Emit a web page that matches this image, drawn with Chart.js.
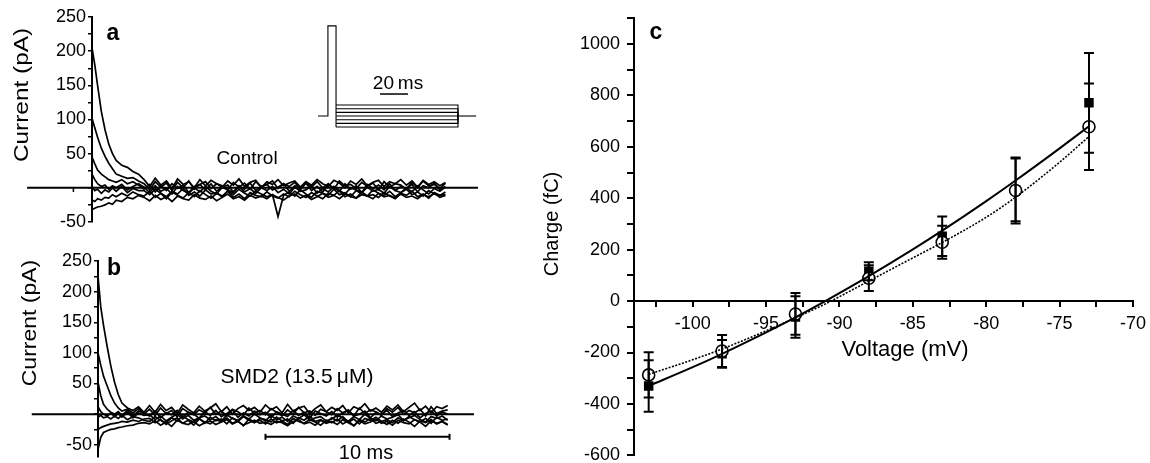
<!DOCTYPE html>
<html>
<head>
<meta charset="utf-8">
<script src="https://cdn.jsdelivr.net/npm/chart.js@4.4.1/dist/chart.umd.min.js"></script>
<style>
  html, body { margin: 0; padding: 0; background: #fff; }
  #page { position: relative; width: 1150px; height: 463px; overflow: hidden; }
  .panel { position: absolute; }
</style>
</head>
<body>
<div id="page">
  <div class="panel" style="left:0;top:0;width:480px;height:232px"><canvas id="chartA"></canvas></div>
  <div class="panel" style="left:0;top:232px;width:480px;height:231px"><canvas id="chartB"></canvas></div>
  <div class="panel" style="left:310px;top:15px;width:175px;height:120px"><canvas id="chartInset"></canvas></div>
  <div class="panel" style="left:540px;top:0;width:610px;height:463px"><canvas id="chartC"></canvas></div>
</div>
<script>
// ---- data: current traces (ms, pA) ----
const timeMs = [0, 0.15, 0.3, 0.5, 0.7, 0.9, 1.1, 1.3, 1.6, 1.9, 2.2, 2.5,
  2.8, 3.1, 3.4, 3.7, 4.0, 4.3, 4.6, 4.9, 5.2, 5.5, 5.8,
  6.1, 6.4, 6.7, 7.0, 7.3, 7.6, 7.9, 8.2, 8.5, 8.8, 9.1,
  9.4, 9.7, 10.0, 10.3, 10.6, 10.9, 11.2, 11.5, 11.8, 12.1, 12.4,
  12.7, 13.0, 13.3, 13.6, 13.9, 14.2, 14.5, 14.8, 15.1, 15.4, 15.7,
  16.0, 16.3, 16.6, 16.9, 17.2, 17.5, 17.8, 18.1, 18.4, 18.7, 19.0];

const ctrlTrace1 = [205, 180, 150, 112, 85, 64, 50, 40, 33, 30, 24, 20,
  12, 2, 14, 4, 10, -1, 13, 5, 9, 0, 12,
  3, 11, 6, 1, 10, 4, 13, 2, 8, 11, 0,
  9, 5, 12, 3, 7, 10, 1, 9, 4, 12, 6,
  2, 11, 7, 0, 10, 5, 13, 3, 8, 11, 2,
  9, 6, 12, 4, 10, 1, 11, 5, 9, 3, 8];
const ctrlTrace2 = [102, 88, 74, 58, 46, 36, 28, 20, 17, 14, 15, 10,
  6, -3, 9, 1, 7, -4, 8, 0, 10, -2, 5,
  9, -1, 6, 3, -3, 8, 1, 7, -2, 9, 2,
  5, 10, -1, 6, 2, 8, -3, 7, 1, 9, 0,
  6, -2, 10, 3, 5, -1, 8, 2, 7, -3, 9,
  1, 6, 4, -2, 8, 0, 10, 3, 5, -1, 7];
const ctrlTrace3 = [45, 35, 26, 20, 16, 12, 10, 8, 12, 6, 9, 4,
  -2, 5, -6, 3, -4, 6, -1, 4, -7, 2, 5,
  -3, 6, -5, 1, 4, -6, 3, -2, 7, -4, 2,
  5, -3, 1, 6, -5, 3, -1, 7, -4, 2, -6,
  4, 0, -5, 6, -2, 3, -7, 5, -1, 4, -3,
  6, -4, 2, -1, 5, -6, 3, 0, 7, -3, 2];
const ctrlTrace4 = [20, 12, 6, 2, 4, -2, 3, 0, 5, -3, 2, 6,
  1, -7, 3, -5, -1, -9, 2, -4, -8, 0, -6,
  2, -5, -9, 1, -3, -7, 3, -6, -1, -8, 0,
  -4, 2, -7, -2, -9, 1, -5, -3, 3, -8, -1,
  -6, 2, -4, -9, 0, -3, -7, 1, -5, -2, -8,
  2, -4, -7, 0, -6, 3, -3, -9, -1, -5, 1];
const ctrlTrace5 = [2, -4, -2, -8, -3, -6, 0, -5, 2, -7, -1, -4,
  -4, -10, -2, -8, -13, -5, -9, -1, -11, -6, -12,
  -3, -9, -7, -14, -4, -10, -2, -8, -12, -5, -9,
  -13, -10, -42, -11, -6, -12, -3, -9, -14, -5, -8,
  -11, -2, -10, -7, -13, -4, -9, -12, -3, -8, -11,
  -5, -13, -7, -2, -10, -6, -12, -4, -9, -11, -6];
const ctrlTrace6 = [-18, -20, -16, -18, -14, -15, -10, -13, -8, -12, -6, -10,
  -12, -5, -14, -8, -16, -6, -11, -15, -7, -13, -4,
  -10, -15, -8, -12, -5, -14, -9, -16, -7, -11, -13,
  -6, -12, -15, -9, -13, -5, -10, -14, -7, -12, -16,
  -8, -11, -4, -13, -9, -15, -6, -12, -10, -14, -7,
  -12, -16, -8, -11, -5, -13, -9, -15, -7, -11, -10];
const ctrlTrace7 = [-32, -30, -28, -27, -25, -22, -24, -18, -20, -14, -16, -11,
  -14, -19, -11, -17, -13, -20, -12, -16, -18, -10, -15,
  -17, -12, -19, -14, -9, -16, -13, -18, -11, -15, -12,
  -16, -10, -14, -18, -12, -9, -15, -11, -17, -13, -8,
  -14, -11, -16, -9, -13, -15, -10, -12, -16, -8, -13,
  -11, -15, -9, -14, -12, -16, -10, -13, -8, -14, -11];

const smdTrace1 = [225, 175, 145, 110, 78, 52, 32, 18, 10, 6, 12, 3,
  14, 3, 16, 6, 11, 1, 15, 8, 2, 13, 5,
  10, 17, 4, 12, 0, 9, 14, 6, 11, 3, 15,
  7, 12, 2, 16, 5, 10, 13, 1, 9, 15, 4,
  11, 6, 14, 2, 12, 8, 17, 5, 10, 3, 13,
  7, 15, 4, 11, 18, 6, 13, 2, 12, 9, 14];
const smdTrace2 = [100, 80, 62, 46, 30, 18, 10, 5, 8, 2, 9, 0,
  8, -2, 10, 1, 6, -4, 9, 3, -1, 7, 2,
  11, 0, 5, -3, 8, 4, -2, 10, 1, 6, -1,
  9, 3, -3, 7, 0, 11, 2, 5, -2, 8, 4,
  -1, 9, 2, 6, -3, 10, 1, 7, 4, -2, 9,
  3, 11, 0, 6, 2, 8, -3, 12, 1, 5, 7];
const smdTrace3 = [52, 30, 16, 8, 3, 0, 4, -2, 6, -3, 5, 1,
  -3, 5, -6, 2, -1, 6, -5, 3, 0, -7, 4,
  -2, 6, -4, 1, 7, -5, 2, -3, 5, -1, 3,
  -6, 4, 0, -4, 6, -2, 3, -7, 5, 1, -3,
  4, -5, 2, 7, -3, 0, 5, -6, 3, -1, 6,
  -4, 2, 6, -2, 4, -6, 1, 5, -3, 3, 0];
const smdTrace4 = [12, 4, 0, -3, 2, -4, 1, -5, 3, -6, 2, -2,
  -1, -9, -3, -11, -5, 0, -8, -2, -10, -6, -3,
  -9, -4, -12, -1, -7, -10, -3, -8, 0, -6, -11,
  -2, -9, -5, -12, -3, -7, -1, -10, -6, -4, -11,
  -8, -2, -6, -12, -4, -9, 0, -7, -11, -3, -8,
  -5, -1, -10, -6, -2, -9, -13, -4, -7, -3, -10];
const smdTrace5 = [-5, -2, -6, -4, -8, -3, -7, -2, -9, -4, -6, -10,
  -12, -4, -10, -14, -6, -11, -3, -9, -13, -7, -15,
  -5, -11, -8, -16, -6, -12, -4, -10, -14, -7, -9,
  -13, -5, -11, -8, -15, -6, -10, -3, -12, -9, -14,
  -6, -11, -4, -13, -8, -16, -7, -10, -5, -12, -9,
  -14, -6, -11, -4, -9, -13, -7, -15, -5, -10, -8];
const smdTrace6 = [-25, -22, -20, -18, -16, -15, -14, -12, -13, -10, -12, -8,
  -7, -14, -9, -17, -11, -6, -15, -10, -18, -8, -13,
  -16, -9, -12, -6, -15, -11, -19, -8, -13, -10, -16,
  -8, -14, -11, -17, -7, -12, -15, -9, -13, -18, -10,
  -14, -8, -16, -11, -19, -9, -13, -7, -15, -12, -17,
  -10, -15, -8, -13, -20, -11, -14, -9, -16, -12, -18];
const smdTrace7 = [-58, -38, -30, -27, -25, -24, -22, -21, -19, -18, -15, -14,
  -16, -11, -18, -13, -20, -10, -15, -17, -12, -19, -14,
  -11, -17, -13, -9, -16, -12, -18, -14, -10, -15, -13,
  -17, -11, -14, -19, -12, -9, -16, -13, -18, -10, -15,
  -12, -17, -9, -14, -19, -11, -16, -13, -8, -15, -12,
  -18, -10, -14, -16, -9, -13, -20, -11, -15, -12, -17];

const currentTicks = [-50, -25, 0, 25, 50, 75, 100, 125, 150, 175, 200, 225, 250];
const ctrlBaselineMs = [-3.49, 20.75];
const ctrlTimeTicks = [-1];
const smdBaselineMs = [-3.6, 20.43];
const scaleBarMs = [9.1, 19.1];
const scaleBarPa = -37;

// ---- data: voltage protocol inset (ms, mV) ----
const protoTimes = [0, 7.1, 12.9, 100, 113];
const protoHoldMv = -88;
const protoPrepulseMv = 35;
const protoStepsMv = [-103, -98, -93, -88, -83, -78, -73];
const insetBarMs = [44.3, 64.3];
const insetBarMv = -58;

// ---- data: charge vs voltage ----
const voltages = [-103, -98, -93, -88, -83, -78, -73];
const chargeSquares = [-330, -205, -62, 116, 252, 432, 771];
const semSquares = [100, 54, 81, 35, 77, 122, 194];
const chargeCircles = [-287, -194, -50, 89, 229, 430, 678];
const semCircles = [88, 62, 81, 50, 64, 128, 168];
const fitVoltages = [-103, -100, -98, -96, -93, -91, -88, -85, -83, -80, -78, -75, -73];
const fitSolid = [-330, -257, -205, -150, -63, -1, 97, 201, 274, 389, 469, 594, 680];
const fitDotted = [-285, -228, -186, -140, -65, -12, 78, 168, 228, 326, 404, 540, 640];
const voltageTicks = [-102.5, -100, -97.5, -95, -92.5, -90, -87.5, -85, -82.5, -80, -77.5, -75, -72.5, -70];
const chargeTicks = [-600, -500, -400, -300, -200, -100, 0, 100, 200, 300, 400, 500, 600, 700, 800, 900, 1000, 1100];

// ---- helpers ----
Chart.defaults.font.family = '"Liberation Sans", Arial, sans-serif';
Chart.defaults.color = '#000';
const FONT = '"Liberation Sans", Arial, sans-serif';

const textPlugin = {
  id: 'panelText',
  afterDraw(chart, args, opts) {
    const ctx = chart.ctx;
    (opts.items || []).forEach(t => {
      ctx.save();
      ctx.translate(t.x - opts.left, t.y - opts.top);
      if (t.rot) ctx.rotate(t.rot);
      if (t.sx) ctx.scale(t.sx, 1);
      ctx.font = (t.bold ? 'bold ' : '') + t.size + 'px ' + FONT;
      ctx.fillStyle = '#000';
      ctx.textAlign = 'center';
      ctx.textBaseline = 'middle';
      ctx.fillText(t.text, 0, 0);
      ctx.restore();
    });
  }
};

const noPad = s => { s.paddingTop = 0; s.paddingBottom = 0; s.paddingLeft = 0; s.paddingRight = 0; };
const fixWidth = w => s => { noPad(s); s.width = w; };
const setTicks = list => s => { s.ticks = list.map(v => ({value: v})); };

function traceSets(traces) {
  return traces.map(vals => ({
    data: vals.map((v, i) => ({x: timeMs[i], y: v})),
    borderColor: '#000', borderWidth: 1.7, pointRadius: 0, tension: 0, fill: false
  }));
}

function baselineSets(baseline, ticks) {
  const sets = [{
    data: baseline.map(t => ({x: t, y: 0})),
    borderColor: '#000', borderWidth: 2, pointRadius: 0, clip: false
  }];
  ticks.forEach(t => sets.push({
    data: [{x: t, y: 0}, {x: t, y: -6}],
    borderColor: '#000', borderWidth: 1.5, pointRadius: 0, clip: false
  }));
  return sets;
}

function tracePanel(id, traces, opt) {
  const datasets = traceSets(traces).concat(baselineSets(opt.baseline, opt.xTicks), opt.extra || []);
  return new Chart(document.getElementById(id), {
    type: 'line',
    data: { datasets: datasets },
    plugins: [textPlugin],
    options: {
      responsive: true, maintainAspectRatio: false, animation: false, devicePixelRatio: 1,
      layout: { padding: opt.padding },
      plugins: {
        legend: { display: false }, tooltip: { enabled: false },
        panelText: { left: opt.left, top: opt.top, items: opt.texts }
      },
      scales: {
        x: { type: 'linear', min: 0, max: opt.xMax, display: false },
        y: {
          type: 'linear', min: opt.yMin, max: 250, position: 'left',
          afterBuildTicks: setTicks(currentTicks), afterFit: fixWidth(70),
          ticks: { autoSkip: false, padding: 2, font: { size: 18 },
                   callback: v => (v !== 0 && v % 50 === 0 ? String(v) : '') },
          grid: { drawOnChartArea: false, tickLength: 4, color: '#000', lineWidth: 1.5 },
          border: { color: '#000', width: 2 }
        }
      }
    }
  });
}

// panel a: control
tracePanel('chartA',
  [ctrlTrace1, ctrlTrace2, ctrlTrace3, ctrlTrace4, ctrlTrace5, ctrlTrace6, ctrlTrace7],
  {
    left: 0, top: 0, padding: {left: 22, right: 2, top: 17, bottom: 10},
    xMax: 20.75, yMin: -50, baseline: ctrlBaselineMs, xTicks: ctrlTimeTicks,
    texts: [
      {text: 'Current (pA)', x: 22, y: 95, size: 20, rot: -Math.PI / 2, sx: 1.22},
      {text: 'a', x: 113, y: 34, size: 23, bold: true},
      {text: 'Control', x: 247, y: 159, size: 19}
    ]
  });

// panel b: SMD2
tracePanel('chartB',
  [smdTrace1, smdTrace2, smdTrace3, smdTrace4, smdTrace5, smdTrace6, smdTrace7],
  {
    left: 0, top: 232, padding: {left: 28, right: 2, top: 29, bottom: 3.6},
    xMax: 20.43, yMin: -70, baseline: smdBaselineMs, xTicks: [],
    extra: [{
      data: scaleBarMs.map(t => ({x: t, y: scaleBarPa})),
      borderColor: '#000', borderWidth: 2, pointStyle: 'line', pointRotation: 90,
      pointRadius: 3, pointBorderWidth: 2, pointBorderColor: '#000'
    }],
    texts: [
      {text: 'Current (pA)', x: 30, y: 323, size: 20, rot: -Math.PI / 2, sx: 1.15},
      {text: 'b', x: 114, y: 269, size: 23, bold: true},
      {text: 'SMD2 (13.5\u2009\u03bcM)', x: 297, y: 377, size: 21},
      {text: '10 ms', x: 366, y: 453, size: 20}
    ]
  });

// inset: voltage protocol
const protoSets = [{
  data: [
    {x: protoTimes[0], y: protoHoldMv}, {x: protoTimes[1], y: protoHoldMv},
    {x: protoTimes[1], y: protoPrepulseMv}, {x: protoTimes[2], y: protoPrepulseMv},
    {x: protoTimes[2], y: protoStepsMv[0]}
  ]
}].concat(protoStepsMv.map(v => ({
  data: [{x: protoTimes[2], y: v}, {x: protoTimes[3], y: v}, {x: protoTimes[3], y: protoHoldMv}]
}))).concat([{
  data: [{x: protoTimes[3], y: protoHoldMv}, {x: protoTimes[4], y: protoHoldMv}]
}, {
  data: insetBarMs.map(t => ({x: t, y: insetBarMv})), borderWidth: 1.5
}]);
protoSets.forEach(d => {
  d.borderColor = '#000';
  d.borderWidth = d.borderWidth || 1.1;
  d.pointRadius = 0;
});

new Chart(document.getElementById('chartInset'), {
  type: 'line',
  data: { datasets: protoSets },
  plugins: [textPlugin],
  options: {
    responsive: true, maintainAspectRatio: false, animation: false, devicePixelRatio: 1,
    layout: { padding: 0 },
    plugins: {
      legend: { display: false }, tooltip: { enabled: false },
      panelText: { left: 310, top: 15, items: [{text: '20\u2009ms', x: 398, y: 84, size: 19}] }
    },
    scales: {
      x: { type: 'linear', min: -5.7, max: 119.3, display: false },
      y: { type: 'linear', min: -113.9, max: 49.8, display: false }
    }
  }
});

// panel c: charge vs voltage
function errorBarData(means, sems) {
  const out = [];
  voltages.forEach((v, i) => {
    out.push({x: v, y: means[i] - sems[i]}, {x: v, y: means[i] + sems[i]}, {x: v, y: null});
  });
  return out;
}

new Chart(document.getElementById('chartC'), {
  type: 'line',
  data: {
    datasets: [
      { data: fitVoltages.map((v, i) => ({x: v, y: fitSolid[i]})),
        borderColor: '#000', borderWidth: 2, pointRadius: 0, cubicInterpolationMode: 'monotone' },
      { data: fitVoltages.map((v, i) => ({x: v, y: fitDotted[i]})),
        borderColor: '#000', borderWidth: 1.6, borderDash: [2, 1.5], pointRadius: 0, cubicInterpolationMode: 'monotone' },
      { data: errorBarData(chargeSquares, semSquares), spanGaps: false,
        borderColor: '#000', borderWidth: 2, pointStyle: 'line', pointRadius: 5, pointBorderWidth: 2, pointBorderColor: '#000' },
      { data: errorBarData(chargeCircles, semCircles), spanGaps: false,
        borderColor: '#000', borderWidth: 2, pointStyle: 'line', pointRadius: 5, pointBorderWidth: 2, pointBorderColor: '#000' },
      { data: voltages.map((v, i) => ({x: v, y: chargeCircles[i]})), showLine: false,
        pointStyle: 'circle', pointRadius: 6, pointBorderWidth: 1.6, pointBorderColor: '#000', pointBackgroundColor: '#fff' },
      { data: voltages.map((v, i) => ({x: v, y: chargeSquares[i]})), showLine: false,
        pointStyle: 'rect', pointRadius: 6.7, pointBorderWidth: 0, pointBackgroundColor: '#000' }
    ]
  },
  plugins: [textPlugin],
  options: {
    responsive: true, maintainAspectRatio: false, animation: false, devicePixelRatio: 1,
    layout: { padding: {left: 34, right: 17, top: 18.2, bottom: 6.2} },
    plugins: {
      legend: { display: false }, tooltip: { enabled: false },
      panelText: { left: 540, top: 0, items: [
        {text: 'c', x: 656, y: 33, size: 23, bold: true},
        {text: 'Charge (fC)', x: 552, y: 224, size: 20, rot: -Math.PI / 2},
        {text: 'Voltage (mV)', x: 905, y: 350, size: 22}
      ] }
    },
    scales: {
      x: {
        type: 'linear', min: -104, max: -70, position: {y: 0},
        afterBuildTicks: setTicks(voltageTicks), afterFit: noPad,
        ticks: { autoSkip: false, maxRotation: 0, minRotation: 0, padding: 7, font: { size: 18 },
                 callback: v => (v % 5 === 0 ? String(v) : '') },
        grid: { drawOnChartArea: false, tickLength: 5, color: '#000', lineWidth: 2 },
        border: { color: '#000', width: 2 }
      },
      y: {
        type: 'linear', min: -600, max: 1100, position: 'left',
        afterBuildTicks: setTicks(chargeTicks), afterFit: fixWidth(60),
        ticks: { autoSkip: false, padding: 7, font: { size: 18 },
                 callback: v => (v % 200 === 0 ? String(v) : '') },
        grid: { drawOnChartArea: false, tickLength: 7, color: '#000', lineWidth: 2 },
        border: { color: '#000', width: 2 }
      }
    }
  }
});
</script>
</body>
</html>
